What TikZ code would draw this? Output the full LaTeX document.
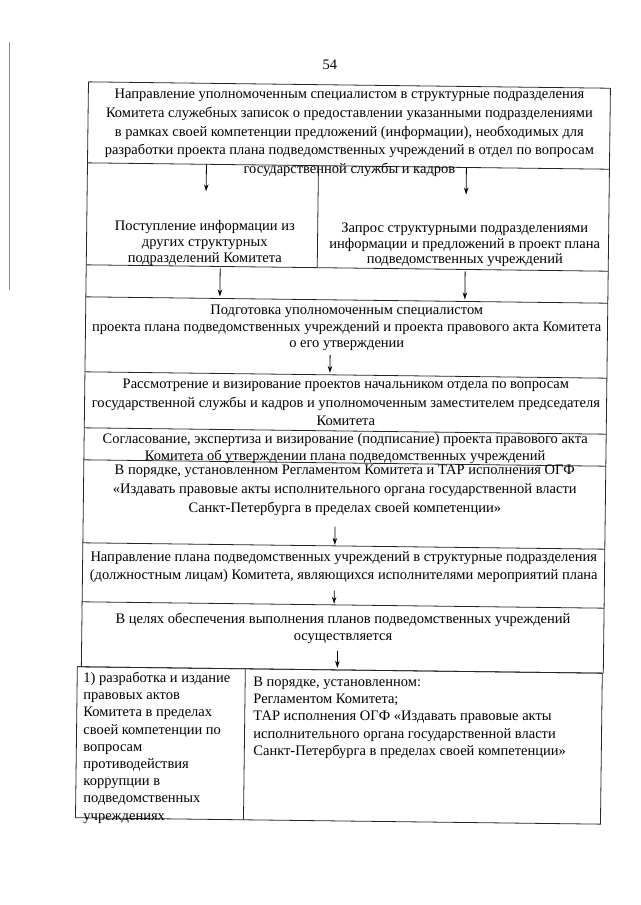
\documentclass[tikz,border=0pt]{standalone}
\usepackage{fontspec}
\setmainfont{Liberation Serif}
\usetikzlibrary{arrows.meta}

\begin{document}
\begin{tikzpicture}[x=1pt,y=-1pt,
  txt/.style={inner sep=0pt,anchor=north,align=center,font=\fontsize{14.5}{17.2}\selectfont},
  ltxt/.style={txt,anchor=north west,align=left},
  frame/.style={line width=0.8pt,black!85},
  arr/.style={-{Stealth[length=7pt,width=4.5pt]},line width=0.8pt}]
\useasboundingbox (0,0) rectangle (640,905);
\draw[black!45,line width=0.7pt] (9,42) -- (9,290);
\begin{scope}[rotate around={-0.7:(345,450)}]
\node[txt] (N) at (325,60) {54};

% table lines
\draw[frame] (84,85) -- (606,85);
\draw[frame] (84,85) -- (84,670);
\draw[frame] (606,85) -- (606,670);
\draw[frame] (84,166) -- (606,166);
\draw[frame] (315,166) -- (315,268);
\draw[frame] (84,268) -- (606,268);
\draw[frame] (84,300) -- (606,300);
\draw[frame] (84,375) -- (606,375);
\draw[frame] (84,431) -- (606,431);
\draw[frame] (84,463) -- (606,463);
\draw[frame] (84,546) -- (606,546);
\draw[frame] (84,605) -- (606,605);
\draw[frame] (80,670) -- (606,670);
\draw[frame] (80,670) rectangle (605,821);
\draw[frame] (248,670) -- (248,821);

% texts
\node[txt,font=\fontsize{14.5}{18.7}\selectfont] (A) at (345,89) {Направление уполномоченным специалистом в структурные подразделения\\
Комитета служебных записок о предоставлении указанными подразделениями\\
в рамках своей компетенции предложений (информации), необходимых для\\
разработки проекта плана подведомственных учреждений в отдел по вопросам\\
государственной службы и кадров};
\node[txt,font=\fontsize{14.5}{15.8}\selectfont] (B) at (202,222) {Поступление информации из\\ других структурных\\ подразделений Комитета};
\node[txt,font=\fontsize{14.5}{15.8}\selectfont] (C) at (462,221) {Запрос структурными подразделениями\\ информации и предложений в проект плана\\ подведомственных учреждений};
\node[txt,font=\fontsize{14.5}{16.6}\selectfont] (D) at (345,305) {Подготовка уполномоченным специалистом\\
проекта плана подведомственных учреждений и проекта правового акта Комитета\\
о его утверждении};
\node[txt,font=\fontsize{14.5}{18.5}\selectfont] (E) at (345,379) {Рассмотрение и визирование проектов начальником отдела по вопросам\\
государственной службы и кадров и уполномоченным заместителем председателя\\
Комитета};
\node[txt,font=\fontsize{14.5}{16.8}\selectfont] (F) at (345,433) {Согласование, экспертиза и визирование (подписание) проекта правового акта\\
Комитета об утверждении плана подведомственных учреждений};
\node[txt,font=\fontsize{14.5}{18.8}\selectfont] (G) at (345,465) {В порядке, установленном Регламентом Комитета и ТАР исполнения ОГФ\\
«Издавать правовые акты исполнительного органа государственной власти\\
Санкт-Петербурга в пределах своей компетенции»};
\node[txt,font=\fontsize{14.5}{18}\selectfont] (H) at (345,551) {Направление плана подведомственных учреждений в структурные подразделения\\
(должностным лицам) Комитета, являющихся исполнителями мероприятий плана};
\node[txt] (I) at (345,613) {В целях обеспечения выполнения планов подведомственных учреждений\\
осуществляется};
\node[ltxt] (J) at (86,675) {1) разработка и издание\\ правовых актов\\ Комитета в пределах\\ своей компетенции по\\ вопросам\\ противодействия\\ коррупции в\\ подведомственных\\ учреждениях};
\node[ltxt] (K) at (256,678) {В порядке, установленном:\\ Регламентом Комитета;\\ ТАР исполнения ОГФ «Издавать правовые акты\\ исполнительного органа государственной власти\\ Санкт-Петербурга в пределах своей компетенции»};

% arrow ends
\coordinate (a1) at (203,166);
\coordinate (a1e) at (203,193);
\coordinate (a2) at (463,166);
\coordinate (a2e) at (463,193);
\coordinate (a3) at (218,270);
\coordinate (a3e) at (218,298);
\coordinate (a4) at (463,270);
\coordinate (a4e) at (463,298);
\coordinate (a5e) at (329,373);
\coordinate (a6e) at (336,545);
\coordinate (a7e) at (336,604);
\coordinate (a8e) at (340,668);

\draw[arr] (a1) -- (a1e);
\draw[arr] (a2) -- (a2e);
\draw[arr] (a3) -- (a3e);
\draw[arr] (a4) -- (a4e);
\draw[arr] (D.south -| a5e) ++(0,4) -- (a5e);
\draw[arr] (G.south -| a6e) ++(0,11) -- (a6e);
\draw[arr] (H.south -| a7e) ++(0,8) -- (a7e);
\draw[arr] (I.south -| a8e) ++(0,7) -- (a8e);
\end{scope}
\end{tikzpicture}
\end{document}
